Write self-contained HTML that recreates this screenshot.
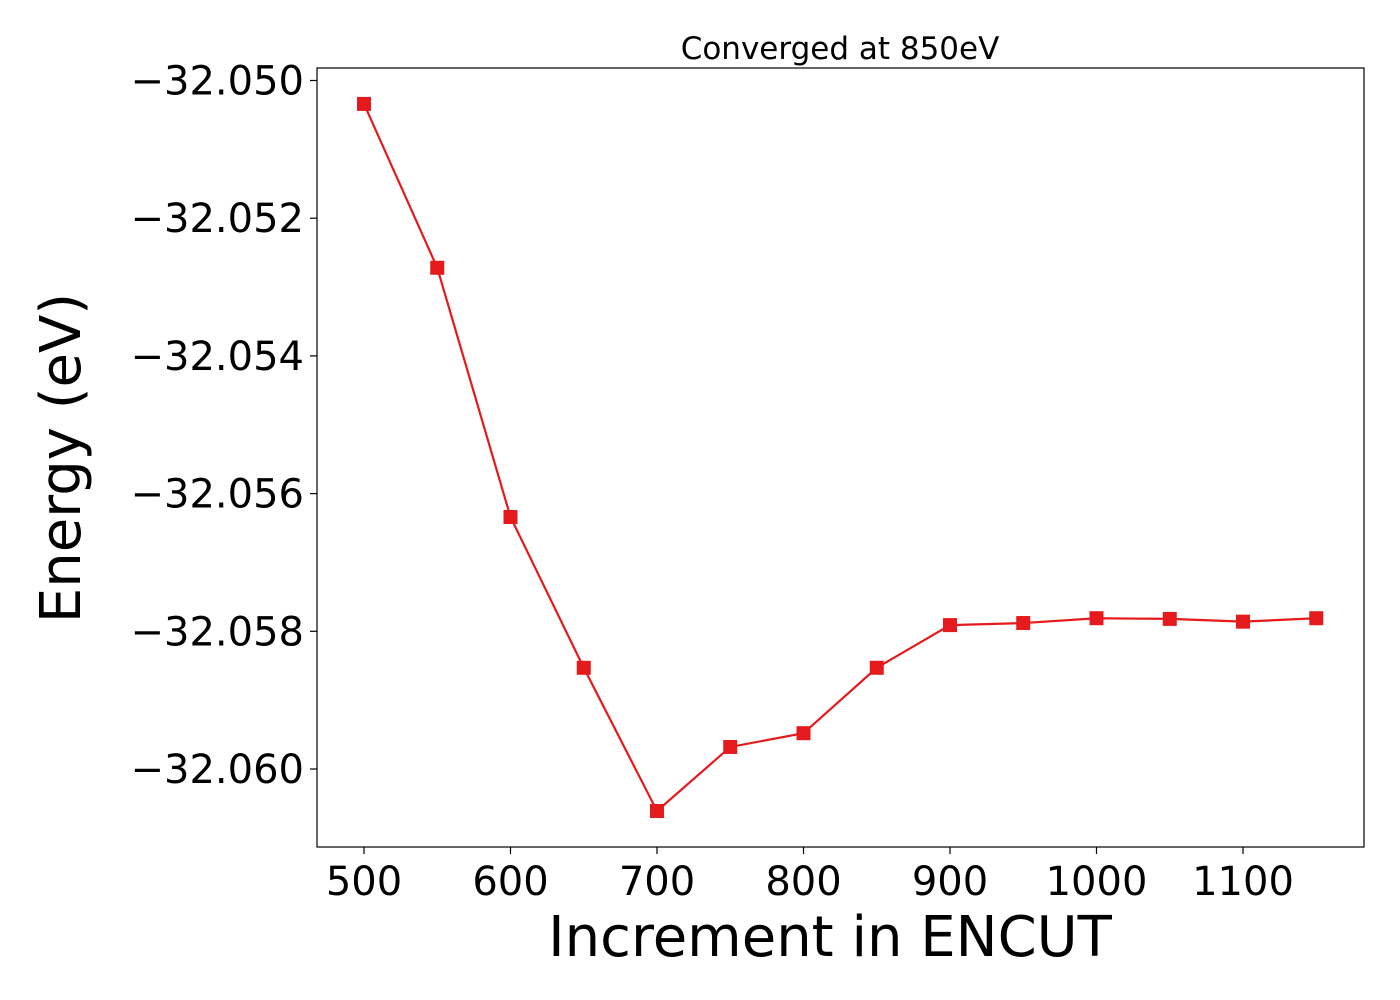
<!DOCTYPE html>
<html><head><meta charset="utf-8"><style>
html,body{margin:0;padding:0;background:#fff}
svg{display:block;font-family:"DejaVu Sans","Liberation Sans",sans-serif}
</style></head><body>
<svg id="chart" width="1400" height="1000">
<text x="840" y="59" font-size="31" text-anchor="middle">Converged at 850eV</text>
<g id="xticks"></g>
<g id="yticks"></g>
<g id="series"></g>
<rect x="317" y="68" width="1047" height="779" fill="none" stroke="#000" stroke-width="1.2"/>
<text x="830" y="956" font-size="56" text-anchor="middle">Increment in ENCUT</text>
<text transform="translate(80,458) rotate(-90)" font-size="56" text-anchor="middle">Energy (eV)</text>
</svg>
<script>
const encut = [500,550,600,650,700,750,800,850,900,950,1000,1050,1100,1150];
const energy = [-32.05034,-32.05272,-32.05634,-32.05853,-32.06061,-32.05968,-32.05948,-32.05853,-32.05791,-32.05788,-32.05781,-32.05782,-32.05786,-32.05781];
const xTicks = [500,600,700,800,900,1000,1100];
const yTicks = [-32.050,-32.052,-32.054,-32.056,-32.058,-32.060];
const yTickLabels = ["\u221232.050","\u221232.052","\u221232.054","\u221232.056","\u221232.058","\u221232.060"];

const NS="http://www.w3.org/2000/svg";
const xS = v => 364 + (v-500)*1.465;
const yS = v => 80.5 + (-32.050 - v)/0.002*137.7;
function mk(tag, attrs, parent){const e=document.createElementNS(NS,tag);for(const k in attrs)e.setAttribute(k,attrs[k]);parent.appendChild(e);return e;}

const xg=document.getElementById('xticks');
xTicks.forEach(t=>{
  const l=mk('line',{x1:xS(t),x2:xS(t),y1:847,y2:854,stroke:'#000','stroke-width':1.2},xg);
  
  
  const tx=mk('text',{x:xS(t),y:895,'font-size':40,'text-anchor':'middle'},xg);
  tx.textContent=t;
  
  
});
const yg=document.getElementById('yticks');
yTicks.forEach((t,i)=>{
  const l=mk('line',{x1:310,x2:317,y1:yS(t),y2:yS(t),stroke:'#000','stroke-width':1.2},yg);
  
  
  const tx=mk('text',{x:304,y:yS(t)+14,'font-size':40,'text-anchor':'end'},yg);
  tx.textContent=yTickLabels[i];
  
  
});
const sg=document.getElementById('series');
const pts=encut.map((x,i)=>xS(x)+','+yS(energy[i])).join(' ');
const pl=mk('polyline',{points:pts,fill:'none',stroke:'#e41a1c','stroke-width':2.2},sg);


encut.forEach((x,i)=>{
  const r=mk('rect',{x:xS(x)-7,y:yS(energy[i])-7,width:14,height:14,fill:'#e41a1c'},sg);
  
  
});
</script>
</body></html>
